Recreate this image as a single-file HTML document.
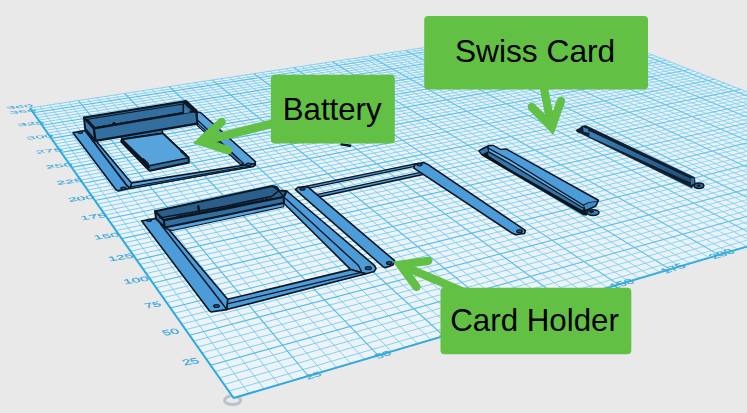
<!DOCTYPE html>
<html><head><meta charset="utf-8"><title>3D design</title>
<style>html,body{margin:0;padding:0;background:#e9e9e9;}body{width:747px;height:413px;overflow:hidden;position:relative;font-family:"Liberation Sans",sans-serif;}</style>
</head><body>
<svg width="747" height="413" viewBox="0 0 747 413" style="position:absolute;left:0;top:0">
<rect width="747" height="413" fill="#e9e9e9"/>
<ellipse cx="232.6" cy="400.2" rx="8" ry="4.4" fill="none" stroke="#b9c3cd" stroke-width="3"/>
<defs><linearGradient id="fade" gradientUnits="userSpaceOnUse" x1="233" y1="398" x2="600" y2="20"><stop offset="0" stop-color="#e9f1f7" stop-opacity="0"/><stop offset="0.45" stop-color="#e9f1f7" stop-opacity="0.05"/><stop offset="1" stop-color="#d8eef8" stop-opacity="0.2"/></linearGradient></defs>
<polygon points="233.6,398 972.3,180.1 574.8,24.6 30,108" fill="#ecf3f9"/>
<path d="M248.9 393.5L39.8 106.5M264.1 389L49.5 105M279 384.6L59.2 103.5M293.7 380.3L68.8 102.1M322.6 371.7L87.7 99.2M336.8 367.6L97.1 97.7M350.8 363.4L106.3 96.3M364.6 359.4L115.6 94.9M391.6 351.4L133.8 92.1M404.9 347.5L142.8 90.7M418 343.6L151.7 89.4M431 339.8L160.6 88M456.4 332.3L178.1 85.3M468.9 328.6L186.8 84M481.2 325L195.4 82.7M493.4 321.4L203.9 81.4M517.3 314.3L220.8 78.8M529 310.9L229.2 77.5M540.6 307.4L237.5 76.2M552.1 304L245.7 75M574.7 297.4L262 72.5M585.7 294.1L270 71.3M596.7 290.9L278 70M607.5 287.7L286 68.8M628.8 281.4L301.7 66.4M639.3 278.3L309.4 65.2M649.6 275.3L317.2 64M659.8 272.3L324.8 62.9M680 266.3L340 60.5M689.9 263.4L347.5 59.4M699.7 260.5L354.9 58.3M709.3 257.7L362.3 57.1M728.4 252L377 54.9M737.8 249.3L384.2 53.8M747.1 246.5L391.4 52.7M756.3 243.8L398.6 51.6M774.3 238.5L412.7 49.4M783.2 235.9L419.7 48.3M792 233.3L426.7 47.3M800.8 230.7L433.6 46.2M817.9 225.6L447.3 44.1M826.4 223.1L454.1 43.1M834.8 220.7L460.8 42.1M843.1 218.2L467.5 41M859.4 213.4L480.7 39M867.4 211L487.3 38M875.4 208.7L493.8 37M883.3 206.4L500.3 36M898.8 201.8L513.1 34M906.5 199.5L519.4 33.1M914.1 197.3L525.7 32.1M921.6 195.1L532 31.1M936.4 190.7L544.4 29.2M943.7 188.5L550.6 28.3M951 186.4L556.7 27.4M958.2 184.3L562.8 26.4M972.3 180.1L574.8 24.6M228.8 391.2L964.2 176.9M224.1 384.5L956.2 173.8M219.5 377.9L948.3 170.7M215 371.5L940.5 167.7M206.2 359L925.2 161.7M201.9 352.9L917.7 158.7M197.8 346.9L910.3 155.9M193.6 341.1L903 153M185.6 329.7L888.7 147.4M181.7 324.1L881.6 144.6M177.9 318.7L874.7 141.9M174.1 313.3L867.8 139.2M166.8 302.8L854.3 133.9M163.2 297.7L847.7 131.3M159.7 292.7L841.1 128.8M156.2 287.8L834.6 126.2M149.5 278.2L821.9 121.3M146.2 273.5L815.7 118.8M143 268.9L809.5 116.4M139.8 264.4L803.4 114M133.6 255.5L791.4 109.3M130.5 251.2L785.5 107M127.5 246.9L779.6 104.7M124.6 242.7L773.9 102.5M118.8 234.5L762.5 98M116 230.5L756.9 95.9M113.2 226.5L751.4 93.7M110.5 222.6L746 91.6M105.1 215L735.2 87.4M102.5 211.3L729.9 85.3M100 207.6L724.7 83.2M97.4 204L719.5 81.2M92.4 196.9L709.3 77.2M90 193.5L704.3 75.3M87.6 190L699.4 73.3M85.2 186.7L694.4 71.4M80.6 180.1L684.8 67.6M78.3 176.8L680 65.8M76.1 173.6L675.3 63.9M73.9 170.5L670.6 62.1M69.5 164.3L661.4 58.5M67.4 161.3L656.9 56.7M65.3 158.3L652.4 55M63.2 155.3L648 53.2M59.2 149.5L639.2 49.8M57.2 146.7L634.9 48.1M55.2 143.9L630.6 46.4M53.2 141.1L626.4 44.8M49.4 135.7L618 41.5M47.6 133L613.9 39.9M45.7 130.4L609.8 38.3M43.9 127.8L605.8 36.7M40.3 122.6L597.8 33.6M38.5 120.1L593.9 32.1M36.8 117.6L590 30.6M35.1 115.2L586.2 29M31.7 110.4L578.6 26.1M30 108L574.8 24.6" stroke="#70c9ee" stroke-width="1.0" fill="none" opacity="0.85"/>
<path d="M233.6 398L30 108M308.3 376L78.3 100.6M378.2 355.4L124.7 93.5M443.8 336L169.4 86.7M505.4 317.8L212.4 80.1M563.5 300.7L253.9 73.7M618.2 284.5L293.8 67.6M670 269.3L332.4 61.7M718.9 254.8L369.7 56M765.3 241.1L405.7 50.5M809.4 228.2L440.5 45.2M851.3 215.8L474.1 40M891.1 204.1L506.7 35M929.1 192.9L538.2 30.2M965.3 182.2L568.8 25.5M233.6 398L972.3 180.1M210.6 365.2L932.8 164.7M189.6 335.3L895.8 150.2M170.4 308L861 136.6M152.8 283L828.2 123.7M136.6 259.9L797.4 111.7M121.7 238.6L768.2 100.2M107.8 218.8L740.6 89.4M94.9 200.5L714.4 79.2M82.9 183.3L689.6 69.5M71.7 167.4L666 60.3M61.2 152.4L643.6 51.5M51.3 138.4L622.2 43.1M42.1 125.2L601.8 35.2M33.3 112.8L582.3 27.5" stroke="#50bbe7" stroke-width="1.15" fill="none"/>
<path d="M30 108L233.6 398L972.3 180.1" stroke="#2eaade" stroke-width="2" fill="none" stroke-linejoin="round"/>
<polygon points="233.6,398 972.3,180.1 574.8,24.6 30,108" fill="url(#fade)"/>
<g font-family="Liberation Sans, sans-serif">
<text transform="matrix(2.2455,-0.4014,0.8231,1.2184,192.23,364.15)" font-size="6.26" text-anchor="middle" fill="#2fa8dd" stroke="#2fa8dd" stroke-width="0.12" opacity="1.0">25</text>
<text transform="matrix(2.1637,-0.3655,0.7337,1.0857,172.29,334.44)" font-size="6.60" text-anchor="middle" fill="#2fa8dd" stroke="#2fa8dd" stroke-width="0.12" opacity="1.0">50</text>
<text transform="matrix(2.0874,-0.3341,0.6562,0.9708,154.05,307.28)" font-size="6.94" text-anchor="middle" fill="#2fa8dd" stroke="#2fa8dd" stroke-width="0.12" opacity="1.0">75</text>
<text transform="matrix(2.0161,-0.3066,0.5887,0.8706,137.31,282.34)" font-size="7.30" text-anchor="middle" fill="#2fa8dd" stroke="#2fa8dd" stroke-width="0.12" opacity="1.0">100</text>
<text transform="matrix(1.9493,-0.2822,0.5296,0.7830,121.90,259.37)" font-size="7.66" text-anchor="middle" fill="#2fa8dd" stroke="#2fa8dd" stroke-width="0.12" opacity="1.0">125</text>
<text transform="matrix(1.8867,-0.2606,0.4776,0.7058,107.64,238.13)" font-size="8.02" text-anchor="middle" fill="#2fa8dd" stroke="#2fa8dd" stroke-width="0.12" opacity="1.0">150</text>
<text transform="matrix(1.8278,-0.2414,0.4316,0.6377,94.43,218.45)" font-size="8.39" text-anchor="middle" fill="#2fa8dd" stroke="#2fa8dd" stroke-width="0.12" opacity="1.0">175</text>
<text transform="matrix(1.7724,-0.2241,0.3908,0.5772,82.16,200.16)" font-size="8.77" text-anchor="middle" fill="#2fa8dd" stroke="#2fa8dd" stroke-width="0.12" opacity="1.0">200</text>
<text transform="matrix(1.7202,-0.2087,0.3544,0.5233,70.71,183.11)" font-size="9.15" text-anchor="middle" fill="#2fa8dd" stroke="#2fa8dd" stroke-width="0.12" opacity="1.0">225</text>
<text transform="matrix(1.6709,-0.1947,0.3219,0.4752,60.02,167.18)" font-size="9.54" text-anchor="middle" fill="#2fa8dd" stroke="#2fa8dd" stroke-width="0.12" opacity="1.0">250</text>
<text transform="matrix(1.6243,-0.1821,0.2928,0.4320,50.01,152.27)" font-size="9.82" text-anchor="middle" fill="#2fa8dd" stroke="#2fa8dd" stroke-width="0.12" opacity="1.0">275</text>
<text transform="matrix(1.5802,-0.1706,0.2665,0.3932,40.62,138.28)" font-size="10.11" text-anchor="middle" fill="#2fa8dd" stroke="#2fa8dd" stroke-width="0.12" opacity="1.0">300</text>
<text transform="matrix(1.5384,-0.1601,0.2429,0.3582,31.80,125.13)" font-size="10.39" text-anchor="middle" fill="#2fa8dd" stroke="#2fa8dd" stroke-width="0.12" opacity="1.0">325</text>
<text transform="matrix(1.4987,-0.1506,0.2215,0.3265,23.48,112.74)" font-size="10.67" text-anchor="middle" fill="#2fa8dd" stroke="#2fa8dd" stroke-width="0.12" opacity="1.0">350</text>
<text transform="matrix(1.4834,-0.1470,0.2135,0.3147,20.29,107.99)" font-size="10.79" text-anchor="middle" fill="#2fa8dd" stroke="#2fa8dd" stroke-width="0.12" opacity="1.0">360</text>
<text transform="matrix(2.1645,-0.6420,0.8193,0.9716,314.99,377.53)" font-size="6.05" text-anchor="middle" fill="#2fa8dd" stroke="#2fa8dd" stroke-width="0.12" opacity="1.0">25</text>
<text transform="matrix(2.0281,-0.6016,0.8899,0.9118,384.84,356.82)" font-size="6.46" text-anchor="middle" fill="#2fa8dd" stroke="#2fa8dd" stroke-width="0.12" opacity="1.0">50</text>
<text transform="matrix(1.9043,-0.5648,0.9503,0.8574,450.34,337.39)" font-size="6.88" text-anchor="middle" fill="#2fa8dd" stroke="#2fa8dd" stroke-width="0.12" opacity="1.0">75</text>
<text transform="matrix(1.7915,-0.5313,1.0019,0.8078,511.91,319.13)" font-size="7.32" text-anchor="middle" fill="#2fa8dd" stroke="#2fa8dd" stroke-width="0.12" opacity="1.0">100</text>
<text transform="matrix(1.6883,-0.5008,1.0460,0.7624,569.88,301.93)" font-size="7.76" text-anchor="middle" fill="#2fa8dd" stroke="#2fa8dd" stroke-width="0.12" opacity="1.0">125</text>
<text transform="matrix(1.5939,-0.4728,1.0835,0.7209,624.57,285.72)" font-size="8.22" text-anchor="middle" fill="#2fa8dd" stroke="#2fa8dd" stroke-width="0.12" opacity="1.0">150</text>
<text transform="matrix(1.5072,-0.4470,1.1154,0.6827,676.23,270.39)" font-size="8.70" text-anchor="middle" fill="#2fa8dd" stroke="#2fa8dd" stroke-width="0.12" opacity="1.0">175</text>
<text transform="matrix(1.4273,-0.4233,1.1423,0.6475,725.12,255.89)" font-size="9.18" text-anchor="middle" fill="#2fa8dd" stroke="#2fa8dd" stroke-width="0.12" opacity="1.0">200</text>
<text transform="matrix(1.3536,-0.4015,1.1649,0.6150,771.45,242.15)" font-size="9.68" text-anchor="middle" fill="#2fa8dd" stroke="#2fa8dd" stroke-width="0.12" opacity="1.0">225</text>
</g>
<g stroke-linejoin="round" stroke-linecap="round">
<polygon points="196.6,112 200.5,112.5 255.3,161.5 255.3,164.2 253.5,166 243.9,165.2 240.7,164.4 197.4,125.2" fill="#57a3dc" stroke="#0b1622" stroke-width="1.6" />
<path d="M198.5 121L243.5 163.5" fill="none" stroke="#0b1622" stroke-width="1.3" />
<polygon points="197.4,123.6 197.4,125.8 240.7,164.6 243.2,163.4" fill="#326e9e" stroke="#0b1622" stroke-width="1.0" />
<polygon points="131.5,182.9 243.9,165.2 255.1,163.6 255.3,165 253.5,166.4 130.3,188.3" fill="#57a3dc" stroke="#0b1622" stroke-width="1.6" />
<polygon points="130.3,186.9 244,167 253.5,166.4 130.3,188.6" fill="#326e9e" stroke="#0b1622" stroke-width="1.0" />
<polygon points="73,132.8 85.1,130.5 127.1,185.7 130.3,188.2 118,190.9 116,189.8" fill="#4c9cda" stroke="#0b1622" stroke-width="1.6" />
<polygon points="85.1,130.5 96,140.8 131.5,182.9 130.3,188.2 127.1,185.7" fill="#4c9cda" stroke="#0b1622" stroke-width="1.6" />
<ellipse cx="80.3" cy="132.4" rx="2.2" ry="1.1" fill="#2a5a86" stroke="#0b1622" stroke-width="1.2"/>
<ellipse cx="123.5" cy="188.3" rx="2.6" ry="1.2" fill="#2a5a86" stroke="#0b1622" stroke-width="1.2"/>
<ellipse cx="248.5" cy="164.4" rx="2.6" ry="1.2" fill="#2a5a86" stroke="#0b1622" stroke-width="1.2"/>
<polygon points="84,117.5 93.9,128.4 95.5,140.8 85.1,128.7" fill="#3a79ab" stroke="#0b1622" stroke-width="2.0" />
<polygon points="84,117.5 186.1,101.1 196.4,110.8 93.9,128.4" fill="#326e9e" stroke="#0b1622" stroke-width="2.2" />
<polygon points="93.9,128.4 196.4,110.8 197.4,123.6 95.5,140.8" fill="#326e9e" stroke="#0b1622" stroke-width="2.2" />
<path d="M87.5 119.3L183.2 104" fill="none" stroke="#0b1622" stroke-width="1.1" />
<polygon points="183.4,107 190.5,112.2 183.4,113.4" fill="#3d7db0" />
<path d="M183.3 104L183.3 113.4" fill="none" stroke="#0b1622" stroke-width="1.6" />
<path d="M184.5 102.6L194.6 111.6" fill="none" stroke="#0b1622" stroke-width="2.6" />
<path d="M87.5 119.3L95 127.5" fill="none" stroke="#0b1622" stroke-width="1.1" />
<ellipse cx="114" cy="123.5" rx="1.2" ry="1.0" fill="#0b1622" stroke="#0b1622" stroke-width="1.2"/>
<polygon points="121.3,136.9 162,130 162.8,133.4 122,139.4" fill="#326e9e" stroke="#0b1622" stroke-width="1.2" />
<polygon points="122,139.4 162.8,133.4 188.6,157.8 188.8,162.4 149.9,170.8 148.1,169.2 121.3,141.8" fill="#326e9e" stroke="#0b1622" stroke-width="2.0" />
<polygon points="122,139.4 162.8,133.4 188.6,157.8 149.1,165.7" fill="#57a3dc" stroke="#0b1622" stroke-width="1.6" />
<path d="M121.8 140.4L148.8 167.2" fill="none" stroke="#0b1622" stroke-width="2.6" />
<path d="M143 159.4L147.5 163.8" fill="none" stroke="#0b1622" stroke-width="2.8" />
<path d="M181.5 151.2L186 155.4" fill="none" stroke="#0b1622" stroke-width="2.6" />
<polygon points="283.8,196.9 286.8,191 374.6,265.6 376,268.6 374.3,271.4 366,273.8 361,272.4 350.7,269.6 283.6,203" fill="#4c9cda" stroke="#0b1622" stroke-width="1.6" />
<path d="M285.5 198.5L358.5 265.5L361.5 271.5" fill="none" stroke="#0b1622" stroke-width="1.4" />
<polygon points="227.6,299.3 350.7,269.6 361,272.4 366,273.8 226.7,309.6" fill="#4c9cda" stroke="#0b1622" stroke-width="1.6" />
<path d="M224 304.6L361.4 272.3" fill="none" stroke="#0b1622" stroke-width="1.2" />
<polygon points="141.7,221 156,218.5 164.7,227.4 168.9,229.6 227.6,299.3 226.7,309.6 211,312 209,310.3" fill="#4c9cda" stroke="#0b1622" stroke-width="1.6" />
<path d="M160.5 224L221.9 303L226.7 309.4" fill="none" stroke="#0b1622" stroke-width="1.5" />
<ellipse cx="149.1" cy="220.3" rx="2.4" ry="1.2" fill="#2a5a86" stroke="#0b1622" stroke-width="1.2"/>
<ellipse cx="216.5" cy="306" rx="2.8" ry="1.4" fill="#2a5a86" stroke="#0b1622" stroke-width="1.2"/>
<ellipse cx="368.3" cy="268.2" rx="3.0" ry="1.5" fill="#2a5a86" stroke="#0b1622" stroke-width="1.2"/>
<polygon points="164.7,227.4 283.8,203 283.8,206.8 172.5,230.5 168.9,229.6" fill="#57a3dc" stroke="#0b1622" stroke-width="1.1" />
<polygon points="155.1,211.3 163.9,220.2 164.7,227.4 156,218.5" fill="#3a79ab" stroke="#0b1622" stroke-width="2.0" />
<polygon points="155.1,211.3 272.5,185.9 276.8,187 279,190.4 286.3,191.1 283.8,196.9 163.9,220.2" fill="#2a5f8b" stroke="#0b1622" stroke-width="2.0" />
<polygon points="163.9,220.2 225,208.9 283.8,196.9 283.8,202.9 225,215.2 164.7,227.4" fill="#326e9e" stroke="#0b1622" stroke-width="2.0" />
<path d="M159.5 217.9L195 211.8L225 206.2L272.1 196.1L279 190.6" fill="none" stroke="#0b1622" stroke-width="1.4" />
<path d="M176 216.3L195 213L225 207.4L271 197.6" fill="none" stroke="#0b1622" stroke-width="1.0" stroke-dasharray="2.2 1.6"/>
<path d="M198.2 206.4L199.2 210.8" fill="none" stroke="#0b1622" stroke-width="2.6" />
<path d="M272.5 186.5L278.5 190.5L283.5 196.5" fill="none" stroke="#0b1622" stroke-width="1.2" />
<polygon points="303,186.9 419,163.1 419.6,165.3 304,189.1" fill="#4c9cda" stroke="#0b1622" stroke-width="1.3" />
<polygon points="316.5,194.6 422.8,171.9 424.2,174.3 318.8,197" fill="#4c9cda" stroke="#0b1622" stroke-width="1.4" />
<polygon points="295.4,189.6 298,187.3 307.5,186.6 394.6,260.7 393,265 386,267.6 383.5,267" fill="#4c9cda" stroke="#0b1622" stroke-width="1.6" />
<ellipse cx="302.4" cy="189" rx="2.6" ry="1.2" fill="#2a5a86" stroke="#0b1622" stroke-width="1.2"/>
<ellipse cx="389.2" cy="263" rx="2.8" ry="1.4" fill="#2a5a86" stroke="#0b1622" stroke-width="1.2"/>
<polygon points="413.9,168.2 414.5,164.6 423.6,162.6 427,163.9 525.3,230.3 524.5,233.5 515.7,234.8 511.4,232.7" fill="#4c9cda" stroke="#0b1622" stroke-width="1.6" />
<ellipse cx="419.6" cy="164.7" rx="2.4" ry="1.1" fill="#2a5a86" stroke="#0b1622" stroke-width="1.2"/>
<ellipse cx="519.5" cy="231.2" rx="2.8" ry="1.4" fill="#2a5a86" stroke="#0b1622" stroke-width="1.2"/>
<ellipse cx="593" cy="212.6" rx="6" ry="2.9" fill="#3a7fb8" stroke="#0b1622" stroke-width="1.5"/>
<ellipse cx="591.4" cy="211.8" rx="2.1" ry="1.1" fill="#0a141e" stroke="#0b1622" stroke-width="0.5"/>
<polygon points="479.1,150.7 483,148.5 488.2,145.9 493,145.5 500.3,149.5 506.3,149.1 598.4,200.3 596,205.7 585.6,211 586.5,214.6 583.3,214.4 482.1,154.8" fill="#0a141e" stroke="#0a141e" stroke-width="1.6" />
<polygon points="479.6,150.9 487,147.6 488.2,151.3 482.3,154.2" fill="#3576a8" />
<polygon points="488.4,146.6 493,146.1 500.2,150.1 506.2,149.8 597.6,200.8 588.1,202.3 583.3,204.6 510,159.2 489.2,147.9" fill="#4c9cda" />
<polygon points="489.2,149.4 510,160.7 583.3,206.1 583.7,207.6 510,163.1 488.7,151" fill="#62b4ea" />
<polygon points="488.4,152.4 510,164.6 583.8,209 582.3,210.2 510,169.3 488.4,155.6" fill="#3576a8" />
<polygon points="584,205.6 588.4,203.1 597.2,201.4 595.2,205.4 585.6,209.8" fill="#4288c4" />
<defs><linearGradient id="g5" x1="0" x2="1" y1="0" y2="0"><stop offset="0" stop-color="#3b80b6"/><stop offset="1" stop-color="#21507a"/></linearGradient></defs>
<ellipse cx="699" cy="185.8" rx="4.8" ry="2.7" fill="#2d6898" stroke="#0b1622" stroke-width="1.5"/>
<ellipse cx="698.6" cy="185.6" rx="1.6" ry="0.9" fill="#0a141e" stroke="#0b1622" stroke-width="0.5"/>
<ellipse cx="580" cy="130.6" rx="3.6" ry="1.8" fill="#0a141e" stroke="#0b1622" stroke-width="0.8"/>
<polygon points="577.5,131 579,128.7 582.1,126.2 585.7,125.6 693,176.8 694.6,177.5 695.2,184 691.8,187.8 578.7,132.3" fill="#0e1e2e" stroke="#0e1e2e" stroke-width="0.8" />
<polygon points="589.4,131 690,178.2 690.4,182.6 589.4,136.4" fill="url(#g5)" />
<polygon points="690.6,178.4 693.8,177.9 694.3,183.6 691,185" fill="#35709f" />
<polygon points="583,127.3 588,129 589,133 583.6,131.7" fill="#3b80b6" />
<path d="M341.5 144.2L350 145.8" fill="none" stroke="#0b1622" stroke-width="2.6" />
</g>
<path d="M285 120.5L201 141.5M221.6 122L201 141.5L228 150.2" stroke="#62c044" stroke-width="8.5" fill="none" stroke-linecap="round" stroke-linejoin="miter"/>
<path d="M542.3 80L551.7 127.3M531.8 107L551.7 127.3L561 101" stroke="#62c044" stroke-width="8.3" fill="none" stroke-linecap="round" stroke-linejoin="miter"/>
<path d="M470 294.5L400.2 264.7M428.3 260.8L400.2 264.7L416.5 287" stroke="#62c044" stroke-width="8.3" fill="none" stroke-linecap="round" stroke-linejoin="miter"/>
<rect x="270.9" y="74.8" width="123.90000000000003" height="68.8" rx="4" ry="4" fill="#62c044"/><text x="332.2" y="119.5" font-family="Liberation Sans, sans-serif" font-size="31.2" fill="#000" text-anchor="middle">Battery</text>
<rect x="424.2" y="16" width="223.8" height="73.6" rx="4" ry="4" fill="#62c044"/><text x="535.1" y="62.3" font-family="Liberation Sans, sans-serif" font-size="31.7" fill="#000" text-anchor="middle">Swiss Card</text>
<rect x="440.5" y="287.7" width="190.79999999999995" height="66.5" rx="4" ry="4" fill="#62c044"/><text x="534.6" y="331" font-family="Liberation Sans, sans-serif" font-size="31.3" fill="#000" text-anchor="middle">Card Holder</text>
</svg>
</body></html>
